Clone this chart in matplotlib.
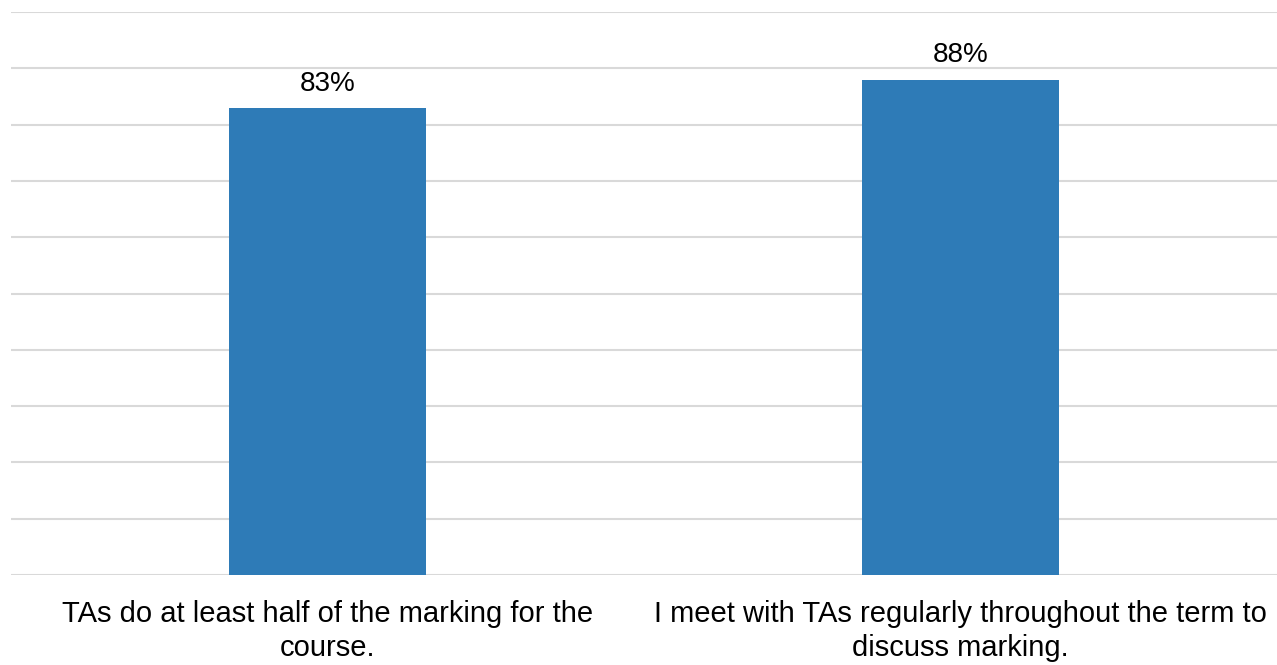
import matplotlib
matplotlib.use("Agg")
import matplotlib.pyplot as plt
from matplotlib.ticker import MultipleLocator

categories = ["TAs do at least half of the marking for the\ncourse.",
              "I meet with TAs regularly throughout the term to\ndiscuss marking."]
values = [83, 88]
value_labels = ["83%", "88%"]

plt.rcParams['font.family'] = ['Liberation Sans', 'DejaVu Sans']

fig = plt.figure(figsize=(12.77, 6.65), dpi=100)
ax = fig.add_axes([11/1277, 1-575/665, 1266/1277, (575-12)/665])

x = list(range(len(categories)))
bars = ax.bar(x, values, width=0.31, color='#2E7BB7', zorder=3)
for xi, v, lab in zip(x, values, value_labels):
    ax.annotate(lab, (xi, v), xytext=(0, 8), textcoords='offset points',
                ha='center', va='bottom', fontsize=20, color='#000000')

ax.set_xlim(-0.5, 1.5)
ax.set_ylim(0, 100)
ax.yaxis.set_major_locator(MultipleLocator(10))
ax.grid(axis='y', color='#D9D9D9', linewidth=1.5, zorder=0)
ax.set_axisbelow(True)
for s in ax.spines.values():
    s.set_visible(False)
ax.set_yticklabels([])
ax.tick_params(axis='y', length=0)
ax.set_xticks(x)
ax.set_xticklabels(categories, fontsize=21, linespacing=1.27, multialignment='center')
ax.tick_params(axis='x', length=0, pad=18)

fig.savefig("out.png", dpi=100)
